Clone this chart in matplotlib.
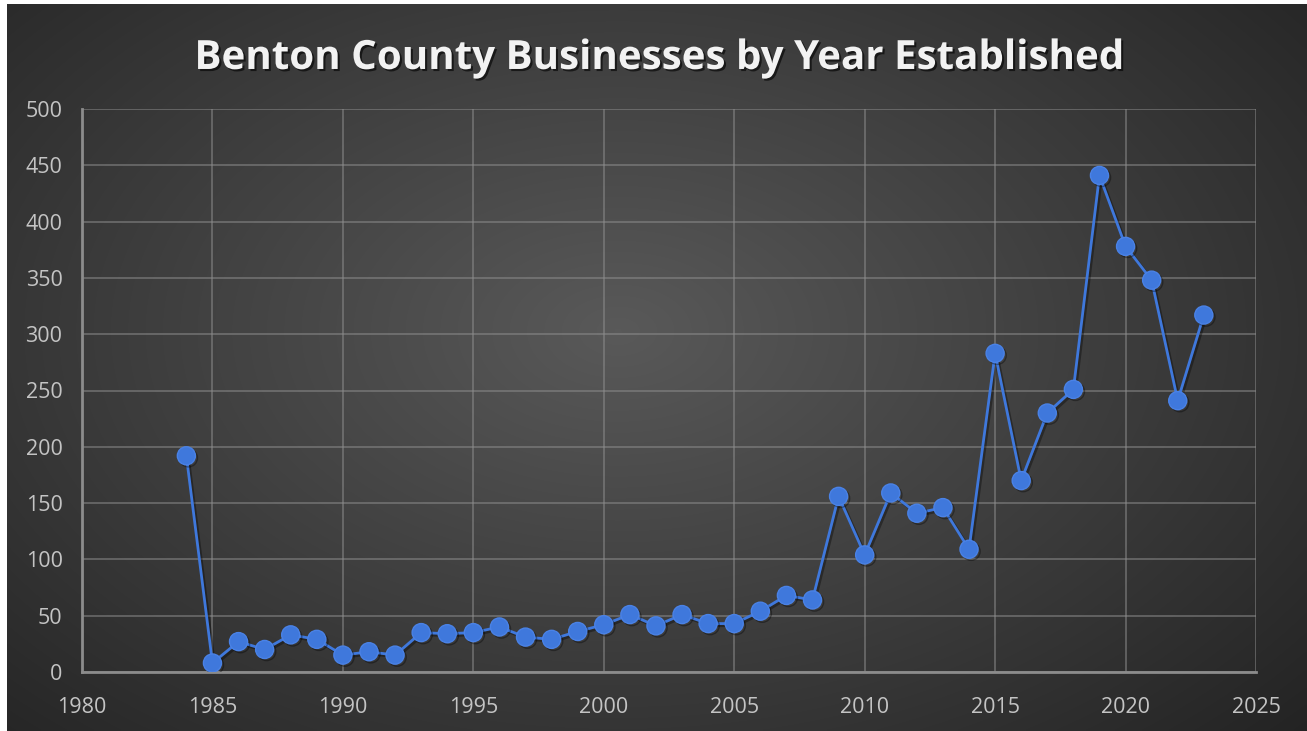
import numpy as np
import matplotlib
matplotlib.use("Agg")
import matplotlib.pyplot as plt
import matplotlib.patheffects as pe

# Data
years = list(range(1984, 2024))
counts = [192, 8, 27, 20, 33, 29, 15, 18, 15, 35,
          34, 35, 40, 31, 29, 36, 42, 51, 41, 51,
          43, 43, 54, 68, 64, 156, 104, 159, 141, 146,
          109, 283, 170, 230, 251, 441, 378, 348, 241, 317]
xticks = [1980, 1985, 1990, 1995, 2000, 2005, 2010, 2015, 2020, 2025]
yticks = [0, 50, 100, 150, 200, 250, 300, 350, 400, 450, 500]
title = "Benton County Businesses by Year Established"

W, H = 1307, 731
fig = plt.figure(figsize=(W / 100, H / 100), dpi=100, facecolor="white")

# radial gradient background (white sliver at top/left like the screenshot)
bg = fig.add_axes([7 / W, 0, 1 - 7 / W, 1 - 4 / H])
bg.set_axis_off()
gx, gy = np.meshgrid(np.linspace(0, 1, 400), np.linspace(0, 1, 240))
r = np.sqrt(((gx - 0.47) / 0.75) ** 2 + ((gy - 0.45) / 0.85) ** 2)
shade = np.clip(0.35 - 0.22 * r, 0.13, 0.35)
bg.imshow(np.dstack([shade] * 3), aspect="auto", extent=[0, 1, 0, 1],
          interpolation="bilinear")

ax = fig.add_axes([82 / W, (H - 672) / H, (1256 - 82) / W, (672 - 109) / H])
ax.patch.set_alpha(0)
ax.plot(years, counts, color="#3f78dc", lw=2, marker="o", ms=13,
        markerfacecolor="#3f78dc", markeredgecolor="#4a82e6", mew=1, zorder=3,
        path_effects=[pe.SimpleLineShadow(offset=(1.5, -1.5), shadow_color="black", alpha=0.35),
                      pe.Normal()])

ax.set_xlim(1980, 2025)
ax.set_ylim(0, 500)
ax.set_xticks(xticks)
ax.set_yticks(yticks)
ax.grid(True, color="#8e8e8e", lw=1.2, alpha=0.6)
for s in ["top", "right"]:
    ax.spines[s].set_visible(False)
for s in ["left", "bottom"]:
    ax.spines[s].set_color("#8c8c8c")
    ax.spines[s].set_linewidth(2)
ax.tick_params(length=0, colors="#c4c4c4", labelsize=15.5)
ax.tick_params(axis="x", pad=18)
ax.tick_params(axis="y", pad=14)
for lab in ax.get_xticklabels() + ax.get_yticklabels():
    lab.set_family("Open Sans")

fig.text(0.5035, 0.92, title, ha="center", va="center", color="#f2f2f2",
         fontsize=29, fontweight="bold", family="Open Sans",
         path_effects=[pe.withSimplePatchShadow(offset=(1.5, -1.5), shadow_rgbFace="black", alpha=0.6)])

fig.savefig("out.png", dpi=100, facecolor=fig.get_facecolor())
